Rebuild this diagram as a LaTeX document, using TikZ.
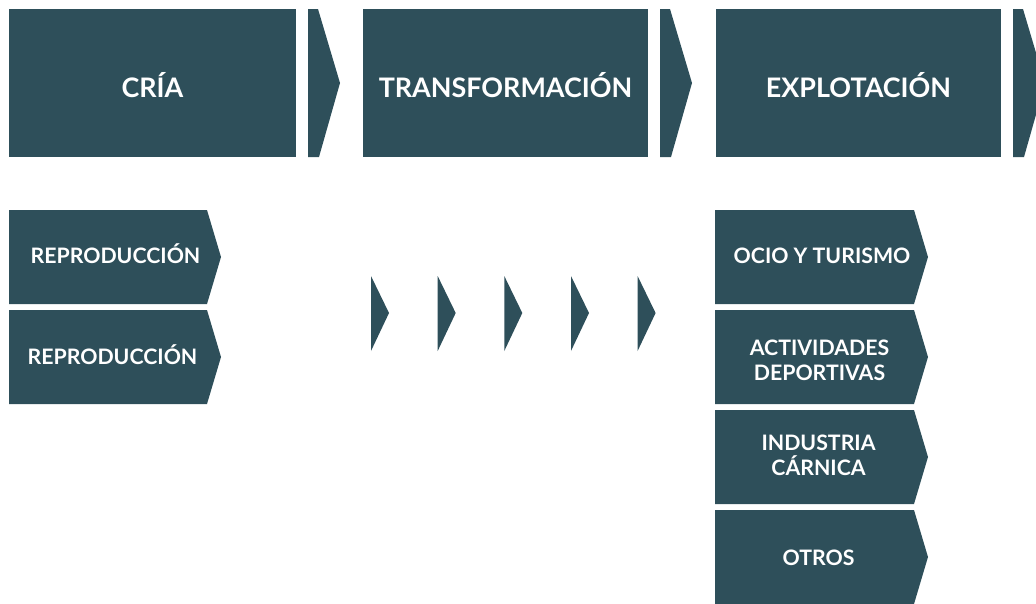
\documentclass[tikz,border=0pt]{standalone}
\usepackage{fontspec}
\setmainfont{Lato}
\definecolor{boxc}{RGB}{46,79,90}
\tikzset{
  shp/.style={fill=boxc, draw=none},
  big/.style={text=white, font=\bfseries\fontsize{26.9}{30}\selectfont, anchor=base, inner sep=0pt},
  small/.style={text=white, font=\bfseries\fontsize{21.3}{25}\selectfont, align=center, anchor=base, inner sep=0pt},
}
\newcommand\pentshape[5]{% x1 y1 xr xp y2
  \fill[shp] (#1,#2) -- (#3,#2) -- (#4,{(#2+#5)/2}) -- (#3,#5) -- (#1,#5) -- cycle;}
\begin{document}
\begin{tikzpicture}[x=1pt,y=-1pt]
\useasboundingbox (0,0) rectangle (1036,603);
\clip (0,0) rectangle (1036,603);
% top row
\fill[shp] (9,9) rectangle (296,157);
\fill[shp] (363,9) rectangle (648,157);
\fill[shp] (716,9) rectangle (1001,157);
\fill[shp] (308,9) -- (318,9) -- (340,83) -- (319,157) -- (308,157) -- cycle;
\fill[shp] (660,9) -- (670,9) -- (692,83) -- (671,157) -- (660,157) -- cycle;
\fill[shp] (1013,9) -- (1023,9) -- (1045,83) -- (1024,157) -- (1013,157) -- cycle;
\node[big] (cria) at (152.5,97) {CRÍA};
\node[big] (trans) at (505.5,97) {TRANSFORMACIÓN};
\node[big] (explo) at (858.5,97) {EXPLOTACIÓN};
% left column
\pentshape{9}{210}{207}{221}{304}
\pentshape{9}{310}{207}{221}{404}
\node[small] (rep1) at (115.5,263.3) {REPRODUCCIÓN};
\node[small] (rep2) at (112.5,364.3) {REPRODUCCIÓN};
% middle arrows
\foreach \i/\x in {1/371,2/437.7,3/504.3,4/571,5/637.6}{
  \fill[shp] (\x,276) -- (\x+18,313) -- (\x,351) -- cycle;
}
% right column
\pentshape{715}{210}{914}{928}{304}
\pentshape{715}{310}{914}{928}{404}
\pentshape{715}{410}{914}{928}{504}
\pentshape{715}{510}{914}{928}{604}
\node[small] (ocio) at (822,263.3) {OCIO Y TURISMO};
\node[small] (act) at (819.5,380.7) {ACTIVIDADES\\DEPORTIVAS};
\node[small] (ind) at (818.5,475.7) {INDUSTRIA\\CÁRNICA};
\node[small] (otros) at (818.5,565) {OTROS};
\end{tikzpicture}
\end{document}
